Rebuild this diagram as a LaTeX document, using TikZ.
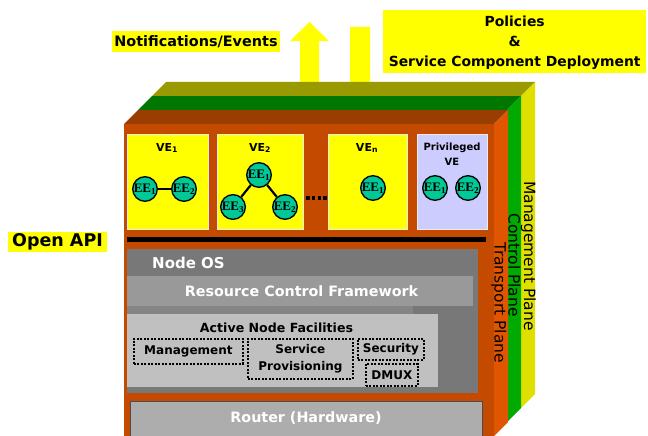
\documentclass[tikz,border=0pt]{standalone}
\usepackage{fontspec}
\setmainfont{DejaVu Sans}
\newfontfamily\eefont{Liberation Serif}
\definecolor{mgTop}{HTML}{999900}
\definecolor{mgSide}{HTML}{E0E000}
\definecolor{ctTop}{HTML}{007700}
\definecolor{ctSide}{HTML}{00AA00}
\definecolor{trTop}{HTML}{993D00}
\definecolor{trSide}{HTML}{E05500}
\definecolor{trFront}{HTML}{C44A00}
\definecolor{yel}{HTML}{FFFF00}
\definecolor{lav}{HTML}{CCCCFF}
\definecolor{eeFill}{HTML}{00C896}
\definecolor{osGray}{HTML}{787878}
\definecolor{rcfGray}{HTML}{999999}
\definecolor{stripGray}{HTML}{858585}
\definecolor{anfGray}{HTML}{C0C0C0}
\definecolor{rtGray}{HTML}{ADADAD}
\tikzset{
  vebox/.style={fill=yel, draw=white!85!gray, line width=0.8pt, anchor=north west, inner sep=0},
  privbox/.style={vebox, fill=lav},
  velabel/.style={font=\bfseries\fontsize{11}{12}\selectfont, inner sep=0},
  ee/.style={circle, fill=eeFill, draw=black, line width=1.3pt, minimum size=24pt, inner sep=0,
     font=\eefont\bfseries\fontsize{13}{13}\selectfont},
  eeline/.style={line width=2.2pt, black},
  plane/.style={rotate=-90, inner sep=0, font=\fontsize{15.5}{17}\selectfont},
  graybox/.style={anchor=north west, inner sep=0, draw=none},
  whitetext/.style={text=white, font=\bfseries\fontsize{14.3}{16}\selectfont, inner sep=0},
  dotbox/.style={draw=black, line width=1.8pt, dash pattern=on 2pt off 1.5pt, anchor=north west, inner sep=0},
  boxtext/.style={font=\bfseries\fontsize{12}{14}\selectfont, inner sep=0, align=center},
}
\begin{document}
\begin{tikzpicture}[x=1pt,y=-1pt]
\useasboundingbox (0,0) rectangle (648,436);
% block arrows (behind the planes)
\fill[yel] (300,92) -- (300,41) -- (290,41) -- (309.5,22) -- (329,41) -- (319,41) -- (319,92) -- cycle;
\fill[yel] (350,27) -- (370,27) -- (370,83) -- (379,83) -- (360,102) -- (341,83) -- (350,83) -- cycle;
% management plane
\fill[mgTop] (152,96) -- (521,96) -- (535,82) -- (166,82) -- cycle;
\fill[mgSide] (521,96) -- (535,82) -- (535,394) -- (521,408) -- cycle;
% control plane
\fill[ctTop] (138,110) -- (507,110) -- (521,96) -- (152,96) -- cycle;
\fill[ctSide] (507,110) -- (521,96) -- (521,408) -- (507,422) -- cycle;
% transport plane
\fill[trTop] (124,124) -- (494,124) -- (508,110) -- (138,110) -- cycle;
\fill[trSide] (494,124) -- (508,110) -- (508,422) -- (494,436) -- cycle;
\fill[trFront] (124,124) rectangle (494,436);
% plane labels
\node[plane] (tp) at (499,303) {Transport Plane};
\node[plane] (cp) at (514.5,265) {Control Plane};
\node[plane] (mp) at (528.5,256) {Management Plane};
% top labels
\node[fill=yel, inner sep=0, minimum width=168pt, minimum height=21pt, font=\bfseries\fontsize{14.4}{16}\selectfont] (notif) at (196,41.5) {Notifications/Events};
\node[fill=yel, minimum width=263pt, minimum height=63pt, anchor=north west, inner sep=0] (pol) at (383,10) {};
\node[inner sep=0, align=center, font=\bfseries\fontsize{13.9}{20}\selectfont] (poltext) at ([yshift=-1.5pt]pol.center) {Policies\\\&\\Service Component Deployment};
\node[fill=yel, inner sep=0, minimum width=99pt, minimum height=20pt, font=\bfseries\fontsize{17.5}{19}\selectfont] (api) at (57.5,242) {Open API};
% VE boxes
\node[vebox, minimum width=81pt, minimum height=95pt] (ve1) at (127,134) {};
\node[vebox, minimum width=86pt, minimum height=95pt] (ve2) at (217,134) {};
\node[vebox, minimum width=79pt, minimum height=95pt] (ven) at (328,134) {};
\node[privbox, minimum width=70pt, minimum height=95pt] (vep) at (417,134) {};
\node[velabel] at (167,148) {VE\textsubscript{1}};
\node[velabel] at (260,148) {VE\textsubscript{2}};
\node[velabel] at (367,148) {VE\textsubscript{n}};
\node[velabel, font=\bfseries\fontsize{10}{14.5}\selectfont, align=center] at (452,154) {Privileged\\VE};
% dots between VE2 and VEn
\draw[line width=4pt, dash pattern=on 3.5pt off 2.3pt] (306,198) -- (328,198);
% EEs
\node[ee] (a1) at (145,189) {EE\textsubscript{1}};
\node[ee] (a2) at (184,189) {EE\textsubscript{2}};
\draw[eeline] (a1) -- (a2);
\node[ee] (b1) at (259,175) {EE\textsubscript{1}};
\node[ee] (b3) at (233,207) {EE\textsubscript{3}};
\node[ee] (b2) at (285,207) {EE\textsubscript{2}};
\draw[eeline] (b1) -- (b3);
\draw[eeline] (b1) -- (b2);
\node[ee] (n1) at (373,188) {EE\textsubscript{1}};
\node[ee] (p1) at (435,188) {EE\textsubscript{1}};
\node[ee] (p2) at (468,188) {EE\textsubscript{2}};
% black bar
\fill[black] (127,237) rectangle (486,242);
% Node OS
\node[graybox, fill=osGray, minimum width=351pt, minimum height=144pt] (nos) at (127,249) {};
\node[whitetext, anchor=west, font=\bfseries\fontsize{15}{17}\selectfont] at (152,263) {Node OS};
\node[graybox, fill=rcfGray, minimum width=346pt, minimum height=30pt] (rcf) at (127,276) {};
\node[whitetext] at (301.5,291.5) {Resource Control Framework};
\node[graybox, fill=stripGray, minimum width=286pt, minimum height=8pt] (strip) at (127,306) {};
\node[graybox, fill=anfGray, minimum width=311pt, minimum height=73pt] (anf) at (127,314) {};
\node[boxtext, font=\bfseries\fontsize{12.6}{14}\selectfont] at (276.5,327.5) {Active Node Facilities};
\node[dotbox, minimum width=109pt, minimum height=25pt] (mgmt) at (133,338) {};
\node[boxtext] at (mgmt.center) {Management};
\node[dotbox, minimum width=105pt, minimum height=40pt] (sp) at (247,338) {};
\node[boxtext, font=\bfseries\fontsize{12}{17}\selectfont] at (sp.center) {Service\\Provisioning};
\node[dotbox, minimum width=66pt, minimum height=21pt] (sec) at (357,338) {};
\node[boxtext] at (sec.center) {Security};
\node[dotbox, minimum width=52pt, minimum height=22pt] (dmux) at (365,363) {};
\node[boxtext] at (dmux.center) {DMUX};
% Router
\node[graybox, fill=rtGray, draw=black!70, line width=0.8pt, minimum width=352pt, minimum height=36pt] (rt) at (130,401) {};
\node[whitetext] at (306,418) {Router (Hardware)};
\end{tikzpicture}
\end{document}
